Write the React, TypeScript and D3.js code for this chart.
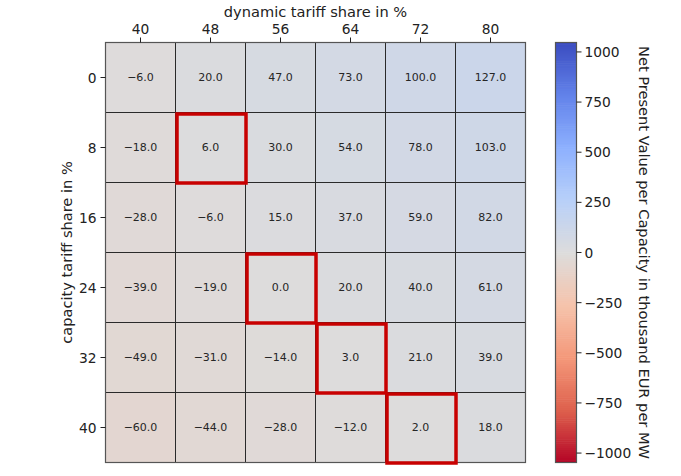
import React from "react";
import * as d3 from "d3";

const dynamicShares = [40, 48, 56, 64, 72, 80];
const capacityShares = [0, 8, 16, 24, 32, 40];
const npvValues = [
  [-6, 20, 47, 73, 100, 127],
  [-18, 6, 30, 54, 78, 103],
  [-28, -6, 15, 37, 59, 82],
  [-39, -19, 0, 20, 40, 61],
  [-49, -31, -14, 3, 21, 39],
  [-60, -44, -28, -12, 2, 18],
];
// highlighted cells as [row, col]
const highlighted = [
  [1, 1],
  [3, 2],
  [4, 3],
  [5, 4],
];
const colorbarTicks = [-1000, -750, -500, -250, 0, 250, 500, 750, 1000];
const vLimit = 1047;

// matplotlib coolwarm, reversed (high = blue)
const coolwarmStops = [
  [59, 76, 192],
  [98, 130, 234],
  [141, 176, 254],
  [184, 208, 249],
  [221, 220, 220],
  [245, 196, 172],
  [244, 152, 122],
  [222, 97, 77],
  [180, 4, 38],
];

const W = 681;
const H = 476;
const left = 105.5;
const top = 42.5;
const size = 420;
const cbLeft = 555.5;
const cbWidth = 21;
const font = "DejaVu Sans, sans-serif";
const minus = (s: string) => s.replace("-", "\u2212");

export default function App() {
  const x = d3.scaleBand<number>().domain(dynamicShares).range([left, left + size]);
  const y = d3.scaleBand<number>().domain(capacityShares).range([top, top + size]);
  const stopDomain = coolwarmStops.map((_, i) => vLimit - (2 * vLimit * i) / (coolwarmStops.length - 1));
  const color = d3
    .scaleLinear<string>()
    .domain(stopDomain)
    .range(coolwarmStops.map(([r, g, b]) => `rgb(${r},${g},${b})`))
    .interpolate(d3.interpolateRgb)
    .clamp(true);
  const cbY = d3.scaleLinear().domain([-vLimit, vLimit]).range([top + size, top]);
  const cbSteps = d3.range(0, 200).map((i) => -vLimit + ((i + 0.5) * 2 * vLimit) / 200);
  const stepH = size / 200;

  return (
    <div style={{ position: "fixed", left: 0, top: 0 }}>
      <svg width={W} height={H} style={{ display: "block", background: "#fff" }} fontFamily={font}>
        {npvValues.map((row, r) =>
          row.map((v, c) => (
            <g key={`${r}-${c}`}>
              <rect
                x={x(dynamicShares[c])}
                y={y(capacityShares[r])}
                width={x.bandwidth()}
                height={y.bandwidth()}
                fill={color(v)}
                stroke="#2a2a2a"
                strokeWidth={1}
              />
              <text
                x={x(dynamicShares[c])! + x.bandwidth() / 2}
                y={y(capacityShares[r])! + y.bandwidth() / 2}
                textAnchor="middle"
                dominantBaseline="central"
                fontSize={11}
                fill="#262626"
              >
                {minus(v.toFixed(1))}
              </text>
            </g>
          ))
        )}
        <rect x={left} y={top} width={size} height={size} fill="none" stroke="#555" strokeWidth={1.2} />
        {highlighted.map(([r, c]) => (
          <rect
            key={`h-${r}-${c}`}
            x={x(dynamicShares[c])! + 1.5}
            y={y(capacityShares[r])! + 1.5}
            width={x.bandwidth() - 1}
            height={y.bandwidth() - 1}
            fill="none"
            stroke="#c80000"
            strokeWidth={3.5}
          />
        ))}
        {dynamicShares.map((d) => {
          const cx = x(d)! + x.bandwidth() / 2;
          return (
            <g key={`xt-${d}`}>
              <line x1={cx} x2={cx} y1={top} y2={top - 5} stroke="#222" />
              <text x={cx} y={top - 9} textAnchor="middle" fontSize={13.8} fill="#222">
                {d}
              </text>
            </g>
          );
        })}
        <text x={left + size / 2} y={17} textAnchor="middle" fontSize={14.6} fill="#222">
          dynamic tariff share in %
        </text>
        {capacityShares.map((d) => {
          const cy = y(d)! + y.bandwidth() / 2;
          return (
            <g key={`yt-${d}`}>
              <line x1={left} x2={left - 5} y1={cy} y2={cy} stroke="#222" />
              <text x={left - 9} y={cy} textAnchor="end" dominantBaseline="central" fontSize={13.8} fill="#222">
                {d}
              </text>
            </g>
          );
        })}
        <text
          transform={`translate(${72},${top + size / 2}) rotate(-90)`}
          textAnchor="middle"
          fontSize={14.6}
          fill="#222"
        >
          capacity tariff share in %
        </text>
        {cbSteps.map((v, i) => (
          <rect
            key={`cb-${i}`}
            x={cbLeft}
            y={cbY(v) - stepH / 2 - 0.3}
            width={cbWidth}
            height={stepH + 0.6}
            fill={color(v)}
          />
        ))}
        <rect x={cbLeft} y={top} width={cbWidth} height={size} fill="none" stroke="#555" strokeWidth={1.2} />
        {colorbarTicks.map((t) => (
          <g key={`ct-${t}`}>
            <line x1={cbLeft + cbWidth} x2={cbLeft + cbWidth + 5} y1={cbY(t)} y2={cbY(t)} stroke="#222" />
            <text x={cbLeft + cbWidth + 8} y={cbY(t)} dominantBaseline="central" fontSize={13.8} fill="#222">
              {minus(String(t))}
            </text>
          </g>
        ))}
        <text
          transform={`translate(${639},${top + size / 2}) rotate(90)`}
          textAnchor="middle"
          fontSize={14.6}
          fill="#222"
        >
          Net Present Value per Capacity in thousand EUR per MW
        </text>
      </svg>
    </div>
  );
}
